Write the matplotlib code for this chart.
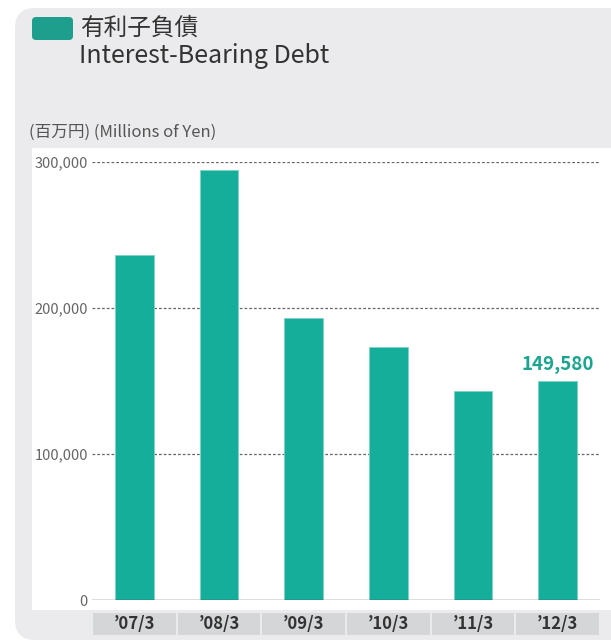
import matplotlib
matplotlib.use("Agg")
import matplotlib.pyplot as plt
from matplotlib.patches import FancyBboxPatch, Rectangle
from matplotlib.transforms import blended_transform_factory

plt.rcParams['font.family'] = ['Noto Sans CJK JP', 'DejaVu Sans']

categories = ["’07/3", "’08/3", "’09/3", "’10/3", "’11/3", "’12/3"]
values = [236100, 294300, 193200, 173200, 143000, 149580]
yticks = [0, 100000, 200000, 300000]
ytick_labels = ["0", "100,000", "200,000", "300,000"]

teal = "#14AE9A"
W, H = 611, 644

fig = plt.figure(figsize=(W / 100, H / 100), dpi=100)
inch = fig.dpi_scale_trans

# gray panel with rounded corners
fig.patches.append(FancyBboxPatch((0.15, 0.04), 6.6, 6.32,
                                  boxstyle="round,pad=0,rounding_size=0.2",
                                  transform=inch, facecolor="#EBEBED",
                                  edgecolor="none", zorder=-3))
# white plot area
fig.patches.append(Rectangle((0.32, (H - 610) / 100), 6.0, (610 - 148) / 100,
                             transform=inch, facecolor="white",
                             edgecolor="none", zorder=-2))
# title marker
fig.patches.append(FancyBboxPatch((0.32, (H - 40) / 100), 0.41, 0.23,
                                  boxstyle="round,pad=0,rounding_size=0.04",
                                  transform=inch, facecolor="#1E9E8C",
                                  edgecolor="none", zorder=2))

fig.text(0.80, (H - 28) / 100, "有利子負債", transform=inch, fontsize=17,
         color="#333333", va="center", ha="left")
fig.text(0.79, (H - 56) / 100, "Interest-Bearing Debt", transform=inch,
         fontsize=18, color="#333333", va="center", ha="left")
fig.text(0.29, (H - 132) / 100, "(百万円) (Millions of Yen)", transform=inch,
         fontsize=12, color="#555555", va="center", ha="left")

ax = fig.add_axes([92 / W, (H - 600) / H, 508 / W, (600 - 161.5) / H])
ax.set_facecolor("none")
ax.bar(range(len(values)), values, width=0.46, color=teal,
       edgecolor="#7FD3C6", linewidth=0.6, zorder=3)
ax.set_xlim(-0.5, len(values) - 0.5)
ax.set_ylim(0, 300000)

for y in yticks[1:]:
    ax.axhline(y, color="#666666", lw=0.9, dashes=(2.2, 1.6), zorder=1)
ax.axhline(0, color="#555555", lw=1.0, zorder=4)

ax.set_yticks(yticks)
ax.set_yticklabels(ytick_labels)
ax.tick_params(axis="y", length=0, pad=3, labelsize=10.5, labelcolor="#666666")
ax.set_xticks([])
for s in ax.spines.values():
    s.set_visible(False)

ax.text(5, values[5] + 5000, f"{values[5]:,}", ha="center", va="bottom",
        fontsize=13.5, fontweight="bold", color="#1AA590")

# category boxes under the axis
tr = blended_transform_factory(ax.transData, inch)
for i, lab in enumerate(categories):
    ax.add_patch(Rectangle((i - 0.49, (H - 635) / 100), 0.98, 0.22,
                           transform=tr, facecolor="#D5D6D8",
                           edgecolor="none", clip_on=False))
    ax.text(i, (H - 624) / 100, lab, transform=tr, ha="center", va="center",
            fontsize=12, fontweight="bold", color="#333333")

fig.savefig("out.png", dpi=100)
